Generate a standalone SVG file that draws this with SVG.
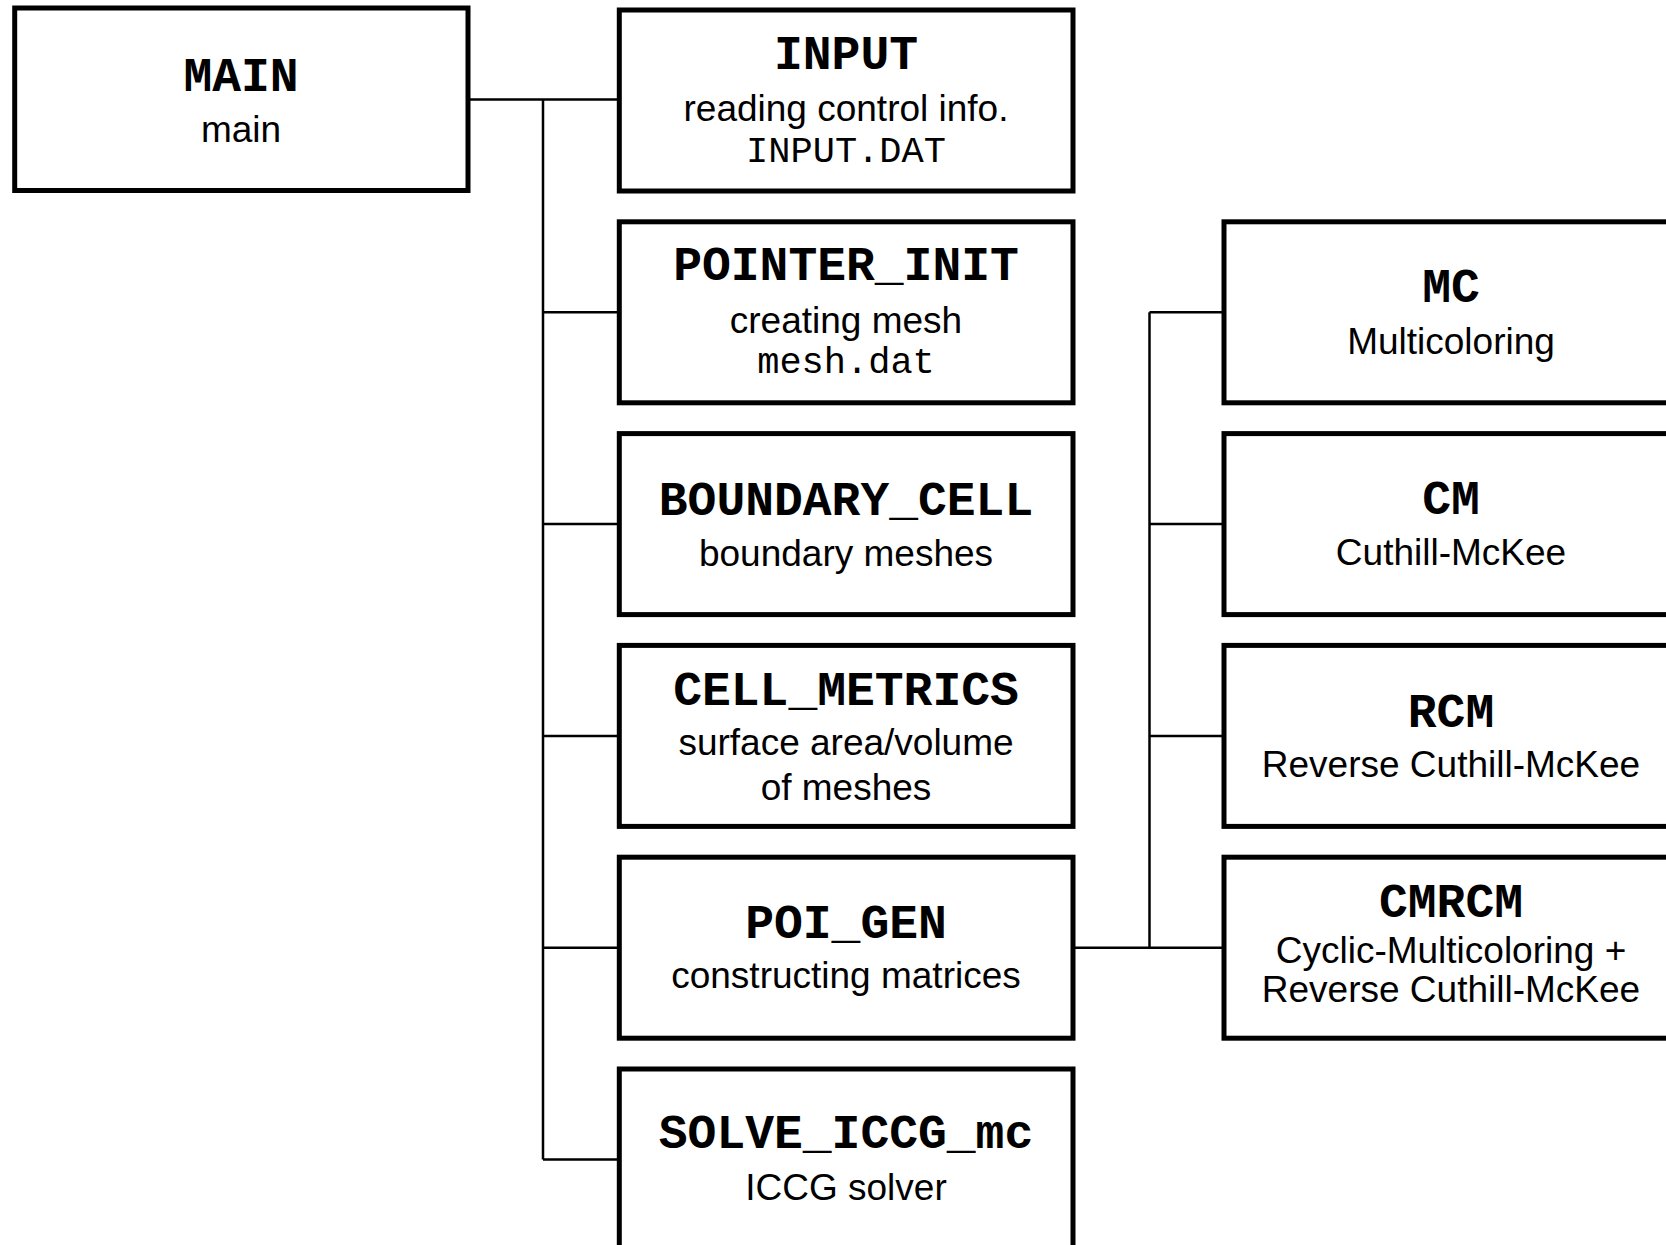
<svg xmlns="http://www.w3.org/2000/svg" width="1666" height="1245" viewBox="0 0 1666 1245">
<style>
.box{fill:#fff;stroke:#000;stroke-width:5}
.conn{fill:none;stroke:#000;stroke-width:2.5}
.t{font-family:"Liberation Mono","Courier New",monospace;font-weight:bold;font-size:48px;text-anchor:middle;fill:#000}
.d{font-family:"Liberation Sans",Arial,sans-serif;font-size:37px;text-anchor:middle;fill:#000}
.f{font-family:"Liberation Mono","Courier New",monospace;font-size:37px;text-anchor:middle;fill:#000}
</style>
<rect width="1666" height="1245" fill="#fff"/>
<g id="connectors">
<path class="conn" d="M468,99.5 H619.3"/>
<path class="conn" d="M543,99.5 V1159.5"/>
<path class="conn" d="M543,312.3 H619.3 M543,524.1 H619.3 M543,735.9 H619.3 M543,947.7 H619.3 M543,1159.5 H619.3"/>
<path class="conn" d="M1073,947.7 H1224"/>
<path class="conn" d="M1149.5,312.3 V947.7"/>
<path class="conn" d="M1149.5,312.3 H1224 M1149.5,524.1 H1224 M1149.5,735.9 H1224"/>
</g>
<g id="MAIN">
<rect class="box" x="14.7" y="8" width="453.3" height="182.5"/>
<text class="t" x="241" y="90.7">MAIN</text>
<text class="d" x="241" y="141.7">main</text>
</g>
<g id="INPUT">
<rect class="box" x="619.3" y="10" width="453.7" height="181"/>
<text class="t" x="846" y="69.3">INPUT</text>
<text class="d" x="846" y="120.7">reading control info.</text>
<text class="f" x="846" y="161.7">INPUT.DAT</text>
</g>
<g id="POINTER_INIT">
<rect class="box" x="619.3" y="221.8" width="453.7" height="181"/>
<text class="t" x="846" y="280">POINTER_INIT</text>
<text class="d" x="846" y="332.7">creating mesh</text>
<text class="f" x="846" y="372.7">mesh.dat</text>
</g>
<g id="BOUNDARY_CELL">
<rect class="box" x="619.3" y="433.6" width="453.7" height="181"/>
<text class="t" x="846" y="515">BOUNDARY_CELL</text>
<text class="d" x="846" y="566">boundary meshes</text>
</g>
<g id="CELL_METRICS">
<rect class="box" x="619.3" y="645.4" width="453.7" height="181"/>
<text class="t" x="846" y="705">CELL_METRICS</text>
<text class="d" x="846" y="755">surface area/volume</text>
<text class="d" x="846" y="800">of meshes</text>
</g>
<g id="POI_GEN">
<rect class="box" x="619.3" y="857.2" width="453.7" height="181"/>
<text class="t" x="846" y="938.3">POI_GEN</text>
<text class="d" x="846" y="988.3">constructing matrices</text>
</g>
<g id="SOLVE_ICCG_mc">
<rect class="box" x="619.3" y="1069" width="453.7" height="181"/>
<text class="t" x="846" y="1148.3">SOLVE_ICCG_mc</text>
<text class="d" x="846" y="1200">ICCG solver</text>
</g>
<g id="MC">
<rect class="box" x="1224" y="221.8" width="454" height="181"/>
<text class="t" x="1451" y="302">MC</text>
<text class="d" x="1451" y="354">Multicoloring</text>
</g>
<g id="CM">
<rect class="box" x="1224" y="433.6" width="454" height="181"/>
<text class="t" x="1451" y="514">CM</text>
<text class="d" x="1451" y="565">Cuthill-McKee</text>
</g>
<g id="RCM">
<rect class="box" x="1224" y="645.4" width="454" height="181"/>
<text class="t" x="1451" y="726.7">RCM</text>
<text class="d" x="1451" y="777.3">Reverse Cuthill-McKee</text>
</g>
<g id="CMRCM">
<rect class="box" x="1224" y="857.2" width="454" height="181"/>
<text class="t" x="1451" y="917.3">CMRCM</text>
<text class="d" x="1451" y="963.3">Cyclic-Multicoloring +</text>
<text class="d" x="1451" y="1001.7">Reverse Cuthill-McKee</text>
</g>
</svg>
